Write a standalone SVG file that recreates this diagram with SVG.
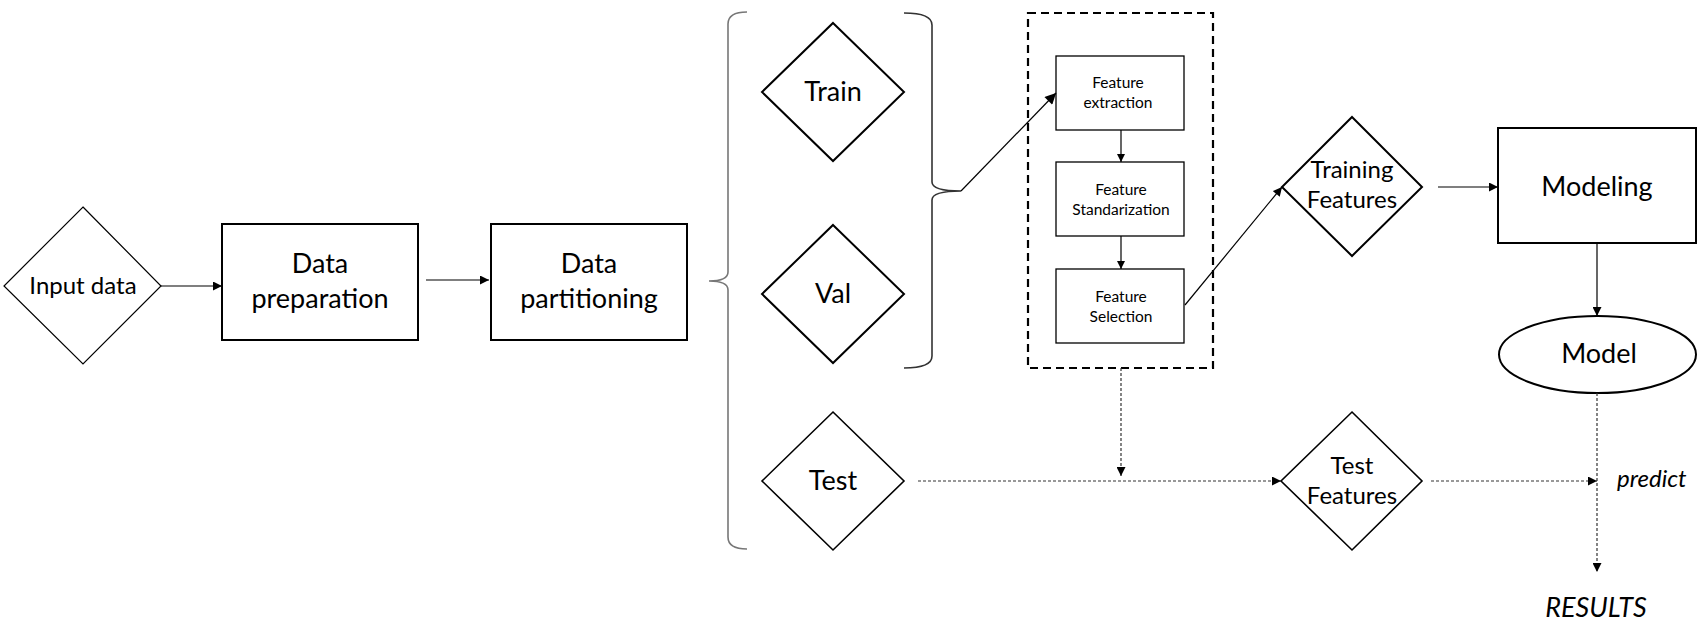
<svg xmlns="http://www.w3.org/2000/svg" width="1705" height="628" viewBox="0 0 1705 628">
<style>
  .t { font-family: Lato, "Open Sans", sans-serif; fill: #000; text-anchor: middle; }
  .big { font-size: 27px; }
  .mid { font-size: 24px; }
  .sm { font-size: 15.5px; }
  .it { font-style: italic; }
  .shape { fill: #fff; stroke: #000; stroke-width: 2; }
  .thin { fill: #fff; stroke: #000; stroke-width: 1.3; }
  .brace { fill: none; stroke: #777; stroke-width: 1.6; }
  .con { fill: none; stroke: #000; stroke-width: 1.2; }
  .dot { fill: none; stroke: #333; stroke-width: 1.2; stroke-dasharray: 3 2; }
</style>
<defs>
  <marker id="ah" viewBox="0 0 10 10" refX="10" refY="5" markerWidth="10" markerHeight="9" markerUnits="userSpaceOnUse" orient="auto">
    <path d="M0,0 L10,5 L0,10 Z" fill="#000"/>
  </marker>
  <marker id="ahL" viewBox="0 0 10 10" refX="10" refY="5" markerWidth="13" markerHeight="11" markerUnits="userSpaceOnUse" orient="auto">
    <path d="M0,0 L10,5 L0,10 Z" fill="#000"/>
  </marker>
  <marker id="ahS" viewBox="0 0 10 10" refX="10" refY="5" markerWidth="8" markerHeight="8" markerUnits="userSpaceOnUse" orient="auto">
    <path d="M0,0 L10,5 L0,10 Z" fill="#000"/>
  </marker>
</defs>
<rect width="1705" height="628" fill="#fff"/>

<g id="braces">
  <path class="brace" d="M747,12 Q728,12 728,24 L728,272 Q728,281 709,281 Q728,281 728,290 L728,537 Q728,549 747,549"/>
  <path class="brace" style="stroke:#333" d="M904,13 Q932,13 932,25 L932,182 Q932,191 961,191 Q932,191 932,200 L932,356 Q932,368 904,368"/>
</g>

<g id="input-data">
  <polygon class="shape" style="stroke-width:1.2" points="83,207 161,286 83,364 4,286"/>
  <text class="t mid" x="83" y="294">Input data</text>
</g>
<g id="data-preparation">
  <rect class="shape" x="222" y="224" width="196" height="116"/>
  <text class="t big" x="320" y="273">Data</text>
  <text class="t big" x="320" y="308">preparation</text>
</g>
<g id="data-partitioning">
  <rect class="shape" x="491" y="224" width="196" height="116"/>
  <text class="t big" x="589" y="273">Data</text>
  <text class="t big" x="589" y="308">partitioning</text>
</g>
<g id="train">
  <polygon class="shape" points="833,23 904,92 833,161 762,92"/>
  <text class="t big" x="833" y="101">Train</text>
</g>
<g id="val">
  <polygon class="shape" points="833,225 904,294 833,363 762,294"/>
  <text class="t big" x="833" y="303">Val</text>
</g>
<g id="test">
  <polygon class="shape" style="stroke-width:1.6" points="833,412 904,481 833,550 762,481"/>
  <text class="t big" x="833" y="490">Test</text>
</g>
<g id="feature-block">
  <rect x="1028" y="13" width="185" height="355" fill="none" stroke="#000" stroke-width="2.2" stroke-dasharray="8 5"/>
</g>
<g id="feature-extraction">
  <rect class="thin" x="1056" y="56" width="128" height="74"/>
  <text class="t sm" x="1118" y="88">Feature</text>
  <text class="t sm" x="1118" y="108">extraction</text>
</g>
<g id="feature-standarization">
  <rect class="thin" x="1056" y="162" width="128" height="74"/>
  <text class="t sm" x="1121" y="195">Feature</text>
  <text class="t sm" x="1121" y="215">Standarization</text>
</g>
<g id="feature-selection">
  <rect class="thin" x="1056" y="269" width="128" height="74"/>
  <text class="t sm" x="1121" y="302">Feature</text>
  <text class="t sm" x="1121" y="322">Selection</text>
</g>
<g id="training-features">
  <polygon class="shape" points="1352,117 1422,187 1352,256 1282,187"/>
  <text class="t mid" x="1352" y="178">Training</text>
  <text class="t mid" x="1352" y="208">Features</text>
</g>
<g id="modeling">
  <rect class="shape" x="1498" y="128" width="198" height="115"/>
  <text class="t big" x="1597" y="196">Modeling</text>
</g>
<g id="model">
  <ellipse class="shape" cx="1597.5" cy="354.5" rx="98.5" ry="38.5"/>
  <text class="t big" x="1599" y="363">Model</text>
</g>
<g id="test-features">
  <polygon class="shape" style="stroke-width:1.6" points="1352,412 1422,481 1352,550 1281,481"/>
  <text class="t mid" x="1352" y="474">Test</text>
  <text class="t mid" x="1352" y="504">Features</text>
</g>
<g id="predict-label">
  <text class="t mid it" x="1617" y="487" style="text-anchor:start">predict</text>
</g>
<g id="results">
  <text class="t big it" x="1596" y="617">RESULTS</text>
</g>

<g id="connectors">
  <path class="con" d="M161,286 H222" marker-end="url(#ah)"/>
  <path class="con" d="M426,280 H489" marker-end="url(#ah)"/>
  <path class="con" d="M961,191 L1056,93" marker-end="url(#ahL)"/>
  <path class="con" d="M1121,130 V162" marker-end="url(#ahS)"/>
  <path class="con" d="M1121,236 V269" marker-end="url(#ahS)"/>
  <path class="con" d="M1185,305 L1282,187" marker-end="url(#ah)"/>
  <path class="con" d="M1438,187 H1498" marker-end="url(#ah)"/>
  <path class="con" d="M1597,243 V316" marker-end="url(#ah)"/>
  <path class="dot" d="M1121,368 V476" marker-end="url(#ah)"/>
  <path class="dot" d="M918,481 H1281" marker-end="url(#ah)"/>
  <path class="dot" d="M1431,481 H1597" marker-end="url(#ah)"/>
  <path class="dot" d="M1597,393 V572" marker-end="url(#ah)"/>
</g>
</svg>
